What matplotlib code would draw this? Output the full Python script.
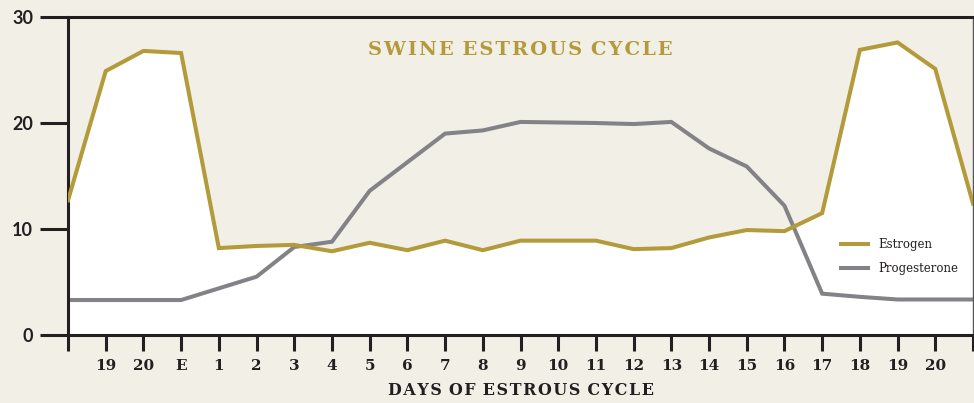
import numpy as np
import matplotlib
matplotlib.use("Agg")
from matplotlib import pyplot as plt

# day positions along the cycle (index 0 = left edge, 24 = right edge)
day_labels = ["", "19", "20", "E", "1", "2", "3", "4", "5", "6", "7", "8", "9",
              "10", "11", "12", "13", "14", "15", "16", "17", "18", "19", "20", ""]

estrogen = [12.7, 24.9, 26.8, 26.6, 8.2, 8.4, 8.5, 7.9, 8.7, 8.0, 8.9, 8.0, 8.9,
            8.9, 8.9, 8.1, 8.2, 9.2, 9.9, 9.8, 11.5, 26.9, 27.6, 25.1, 12.4]
progesterone = [3.3, 3.3, 3.3, 3.3, 4.4, 5.5, 8.3, 8.8, 13.6, 16.3, 19.0, 19.3, 20.1,
                20.05, 20.0, 19.9, 20.1, 17.6, 15.9, 12.2, 3.9, 3.6, 3.35, 3.35, 3.35]
y_ticks = [0, 10, 20, 30]

BG = "#f2efe6"
GOLD = "#b39a3a"
GREY = "#838387"
INK = "#231f20"
HAIR = "\u200a"


def spaced(txt):
    # letter-spaced caps like the original
    return (HAIR + " ").join(HAIR.join(w) for w in txt.split())


x = np.arange(len(day_labels))

fig = plt.figure(figsize=(9.74, 4.03), dpi=100, facecolor=BG)
ax = fig.add_axes([68 / 974, 1 - 335 / 403, (973 - 68) / 974, (335 - 17) / 403])
ax.set_facecolor(BG)

ax.fill_between(x, 0, estrogen, color="white", lw=0, zorder=1)
ax.plot(x, estrogen, color=GOLD, lw=2.9, solid_joinstyle="miter", label="Estrogen", zorder=3)
ax.plot(x, progesterone, color=GREY, lw=2.9, solid_joinstyle="miter", label="Progesterone", zorder=2)

ax.set_xlim(0, 24)
ax.set_ylim(0, 30)

for s in ["left", "bottom", "top"]:
    ax.spines[s].set_color(INK)
    ax.spines[s].set_linewidth(2.2)
ax.spines["right"].set_color("#555555")
ax.spines["right"].set_linewidth(1.0)

ax.set_yticks(y_ticks)
ax.set_yticklabels([str(v) for v in y_ticks], fontsize=13, fontweight="bold",
                   fontfamily="Lato", color=INK)
ax.tick_params(axis="y", length=20, width=2.2, color=INK, pad=5)

ax.set_xticks(x)
ax.set_xticklabels(day_labels, fontsize=11, fontweight="bold",
                   fontfamily="DejaVu Serif", color=INK)
ax.tick_params(axis="x", length=11.5, width=2.2, color=INK, pad=6)

ax.set_xlabel(spaced("DAYS OF ESTROUS CYCLE"), fontsize=11.4, fontweight="bold",
              fontfamily="DejaVu Serif", color=INK, labelpad=6)
ax.text(12, 26.9, spaced("SWINE ESTROUS CYCLE"), ha="center", va="center",
        fontsize=14, fontweight="bold", fontfamily="DejaVu Serif", color=GOLD)

leg = ax.legend(loc="lower right", bbox_to_anchor=(0.995, 0.155), frameon=False,
                prop={"family": "DejaVu Serif", "size": 8.5}, handlelength=2.3,
                labelspacing=0.9, labelcolor=INK)

fig.savefig("out.png", dpi=100, facecolor=BG)
